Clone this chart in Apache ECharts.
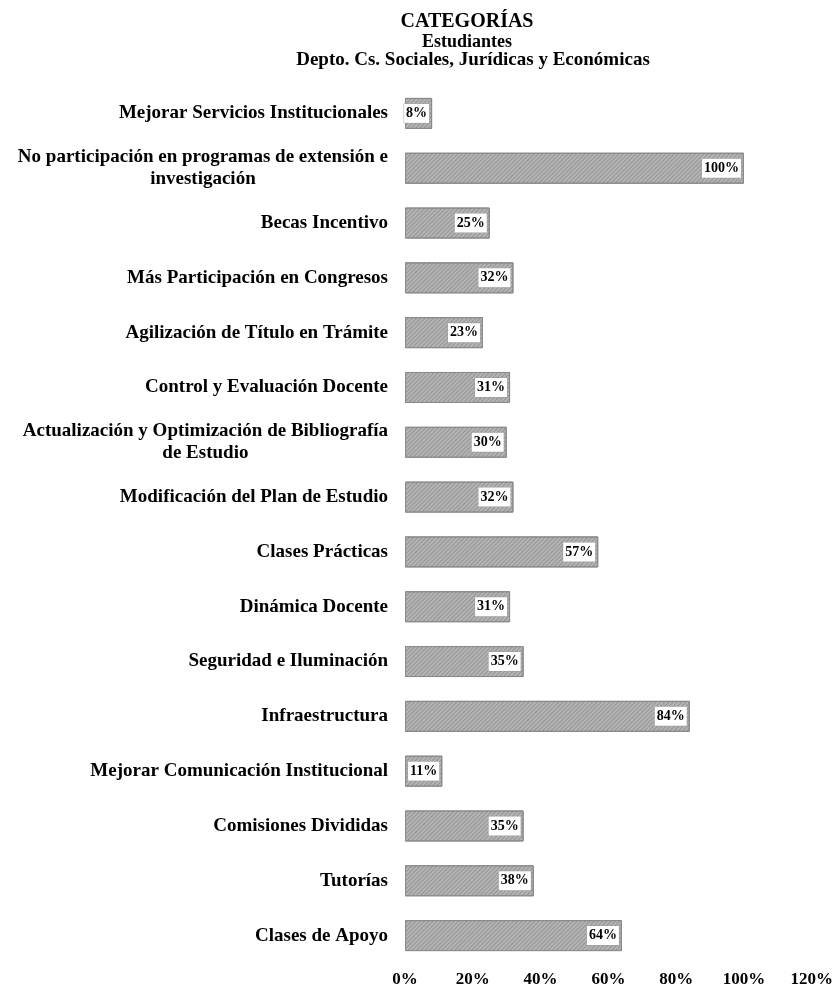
<!DOCTYPE html>
<html>
<head>
<meta charset="utf-8">
<script src="https://cdn.jsdelivr.net/npm/echarts@6/dist/echarts.min.js"></script>
<style>
html,body{margin:0;padding:0;background:#fff;}
#c{width:836px;height:991px;}
</style>
</head>
<body>
<div id="c"></div>
<script>
const categories = [
  "Mejorar Servicios Institucionales",
  "No participación en programas de extensión e\ninvestigación",
  "Becas Incentivo",
  "Más Participación en Congresos",
  "Agilización de Título en Trámite",
  "Control y Evaluación Docente",
  "Actualización y Optimización de Bibliografía\nde Estudio",
  "Modificación del Plan de Estudio",
  "Clases Prácticas",
  "Dinámica Docente",
  "Seguridad e Iluminación",
  "Infraestructura",
  "Mejorar Comunicación Institucional",
  "Comisiones Divididas",
  "Tutorías",
  "Clases de Apoyo"
];
const values = [8, 100, 25, 32, 23, 31, 30, 32, 57, 31, 35, 84, 11, 35, 38, 64];
const xTicks = [0, 20, 40, 60, 80, 100, 120];

const FONT = '"Liberation Serif", "DejaVu Serif", serif';
const chart = echarts.init(document.getElementById('c'));
chart.setOption({
  backgroundColor: '#fff',
  animation: false,
  title: [
    {text: 'CATEGORÍAS', left: 462, top: 7, textAlign: 'center',
     textStyle: {fontFamily: FONT, fontWeight: 'bold', fontSize: 20, color: '#000'}},
    {text: 'Estudiantes', left: 462, top: 28, textAlign: 'center',
     textStyle: {fontFamily: FONT, fontWeight: 'bold', fontSize: 18, color: '#000'}},
    {text: 'Depto. Cs. Sociales, Jurídicas y Económicas', left: 468, top: 46, textAlign: 'center',
     textStyle: {fontFamily: FONT, fontWeight: 'bold', fontSize: 19, color: '#000'}}
  ],
  grid: {left: 405, top: 86, width: 408, height: 877, containLabel: false},
  xAxis: {
    type: 'value', min: xTicks[0], max: xTicks[xTicks.length - 1], interval: 20,
    axisLine: {show: false}, axisTick: {show: false}, splitLine: {show: false},
    axisLabel: {formatter: '{value}%', margin: 8, fontFamily: FONT, fontWeight: 'bold',
                fontSize: 17, color: '#000'}
  },
  yAxis: {
    type: 'category', data: categories, inverse: true,
    axisLine: {show: false}, axisTick: {show: false},
    axisLabel: {
      margin: 17, fontFamily: FONT, fontWeight: 'bold', fontSize: 19, color: '#000', lineHeight: 22,
      formatter: function (v) {
        if (v.indexOf('\n') < 0) return v;
        const p = v.split('\n');
        return '{a|' + p[0] + '}\n{b|' + p[1] + '}';
      },
      rich: {
        a: {fontFamily: FONT, fontWeight: 'bold', fontSize: 19, color: '#000', lineHeight: 22},
        b: {fontFamily: FONT, fontWeight: 'bold', fontSize: 19, color: '#000', lineHeight: 22, align: 'center'}
      }
    }
  },
  series: [{
    type: 'bar', data: values, barWidth: 31,
    itemStyle: {
      color: '#b4b4b4', borderColor: '#8a8a8a', borderWidth: 1,
      decal: {symbol: 'rect', dashArrayX: [1, 0], dashArrayY: [1, 2], rotation: -Math.PI / 4, color: 'rgba(90,90,90,0.35)'}
    },
    label: {
      show: true, position: 'insideRight', distance: 3, formatter: '{c}%',
      fontFamily: FONT, fontWeight: 'bold', fontSize: 14, color: '#000',
      backgroundColor: '#fff', borderColor: '#9a9a9a', borderWidth: 0.5, padding: [3, 2, 2, 2]
    }
  }],
  aria: {enabled: true, decal: {show: true}}
});
</script>
</body>
</html>
